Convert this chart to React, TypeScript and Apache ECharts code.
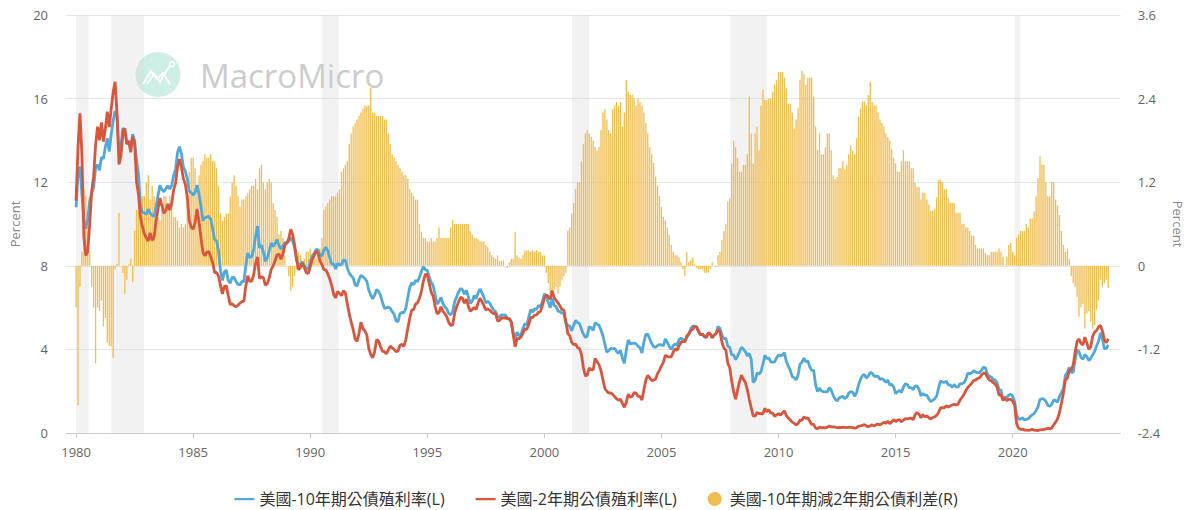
import React, { useEffect, useRef } from "react";
import * as echarts from "echarts";

// Monthly observations, starting January 1980
const START_YEAR = 1980;

const NAME_10Y = "美國-10年期公債殖利率(L)";
const NAME_2Y = "美國-2年期公債殖利率(L)";
const NAME_SPREAD = "美國-10年期減2年期公債利差(R)";

const X_TICKS = [1980, 1985, 1990, 1995, 2000, 2005, 2010, 2015, 2020];

// Recession periods (start, end) in fractional years
const RECESSIONS: [number, number][] = [
  [1980.0, 1980.54],
  [1981.5, 1982.9],
  [1990.51, 1991.22],
  [2001.18, 2001.92],
  [2007.94, 2009.5],
  [2020.08, 2020.32],
];

const T10: number[] = [
  10.8, 12.41, 12.75, 11.47, 10.18, 9.78, 10.25, 11.1, 11.51, 11.75, 12.68, 12.84,
  12.57, 13.19, 13.12, 13.68, 14.1, 13.47, 14.28, 14.94, 15.4, 15.15, 13.39, 13.72,
  14.59, 14.43, 13.86, 13.87, 13.62, 14.3, 13.95, 13.06, 12.34, 10.91, 10.55, 10.54,
  10.46, 10.72, 10.51, 10.4, 10.38, 10.85, 11.38, 11.85, 11.65, 11.54, 11.69, 11.83,
  11.67, 11.84, 12.32, 12.63, 13.41, 13.7, 13.36, 12.72, 12.52, 12.16, 11.57, 11.5,
  11.38, 11.51, 11.86, 11.43, 10.85, 10.16, 10.31, 10.33, 10.37, 10.24, 9.78, 9.26,
  9.19, 8.7, 7.78, 7.3, 7.71, 7.8, 7.3, 7.17, 7.45, 7.43, 7.25, 7.11,
  7.08, 7.25, 7.25, 8.02, 8.61, 8.4, 8.45, 8.76, 9.42, 9.9, 8.86, 8.99,
  8.67, 8.21, 8.37, 8.72, 9.09, 8.92, 9.06, 9.26, 8.98, 8.8, 8.96, 9.11,
  9.09, 9.17, 9.36, 9.18, 8.86, 8.28, 8.02, 8.11, 8.19, 8.01, 7.87, 7.84,
  8.21, 8.47, 8.59, 8.79, 8.76, 8.48, 8.47, 8.75, 8.89, 8.72, 8.39, 8.08,
  8.09, 7.85, 8.11, 8.04, 8.07, 8.28, 8.27, 7.9, 7.65, 7.53, 7.42, 7.09,
  7.03, 7.34, 7.54, 7.48, 7.39, 7.26, 6.84, 6.59, 6.42, 6.59, 6.87, 6.77,
  6.6, 6.26, 5.98, 5.97, 6.04, 5.96, 5.81, 5.68, 5.36, 5.33, 5.72, 5.77,
  5.75, 5.97, 6.48, 6.97, 7.18, 7.1, 7.3, 7.24, 7.46, 7.74, 7.96, 7.81,
  7.78, 7.47, 7.2, 7.06, 6.63, 6.17, 6.28, 6.49, 6.2, 6.04, 5.93, 5.71,
  5.65, 5.81, 6.27, 6.51, 6.74, 6.91, 6.87, 6.64, 6.83, 6.53, 6.2, 6.3,
  6.58, 6.42, 6.69, 6.89, 6.71, 6.49, 6.22, 6.3, 6.21, 6.03, 5.88, 5.81,
  5.54, 5.57, 5.65, 5.64, 5.65, 5.5, 5.46, 5.34, 4.81, 4.53, 4.83, 4.65,
  4.72, 5.0, 5.23, 5.18, 5.54, 5.9, 5.79, 5.94, 5.92, 6.11, 6.03, 6.28,
  6.66, 6.52, 6.26, 5.99, 6.44, 6.1, 6.05, 5.83, 5.8, 5.74, 5.72, 5.24,
  5.16, 5.1, 4.89, 5.14, 5.39, 5.28, 5.24, 4.97, 4.73, 4.57, 4.65, 5.09,
  5.04, 4.91, 5.28, 5.21, 5.16, 4.93, 4.65, 4.26, 3.87, 3.94, 4.05, 4.03,
  4.05, 3.9, 3.81, 3.96, 3.57, 3.33, 3.98, 4.45, 4.27, 4.29, 4.3, 4.27,
  4.15, 4.08, 3.83, 4.35, 4.72, 4.73, 4.5, 4.28, 4.13, 4.1, 4.19, 4.23,
  4.22, 4.17, 4.5, 4.34, 4.14, 4.0, 4.18, 4.26, 4.2, 4.46, 4.54, 4.47,
  4.42, 4.57, 4.72, 4.99, 5.11, 5.11, 5.09, 4.88, 4.72, 4.73, 4.6, 4.56,
  4.76, 4.72, 4.56, 4.69, 4.75, 5.1, 5.0, 4.67, 4.52, 4.53, 4.15, 4.1,
  3.74, 3.74, 3.51, 3.68, 3.88, 4.1, 4.01, 3.89, 3.69, 3.81, 3.53, 2.42,
  2.52, 2.87, 2.82, 2.93, 3.29, 3.72, 3.56, 3.59, 3.4, 3.39, 3.4, 3.59,
  3.73, 3.69, 3.73, 3.85, 3.42, 3.2, 3.01, 2.7, 2.65, 2.54, 2.76, 3.29,
  3.39, 3.58, 3.41, 3.46, 3.17, 3.0, 3.0, 2.3, 1.98, 2.15, 2.01, 1.98,
  1.97, 1.97, 2.17, 2.05, 1.8, 1.62, 1.53, 1.68, 1.72, 1.75, 1.65, 1.72,
  1.91, 1.98, 1.96, 1.76, 1.93, 2.3, 2.58, 2.74, 2.81, 2.62, 2.72, 2.9,
  2.86, 2.71, 2.72, 2.71, 2.56, 2.6, 2.54, 2.42, 2.53, 2.3, 2.33, 2.21,
  1.88, 1.98, 2.04, 1.94, 2.2, 2.36, 2.32, 2.17, 2.17, 2.07, 2.26, 2.24,
  2.09, 1.78, 1.89, 1.81, 1.81, 1.64, 1.5, 1.56, 1.63, 1.76, 2.14, 2.49,
  2.43, 2.42, 2.48, 2.3, 2.3, 2.19, 2.32, 2.21, 2.2, 2.36, 2.35, 2.4,
  2.58, 2.86, 2.84, 2.87, 2.98, 2.91, 2.89, 2.89, 3.0, 3.15, 3.12, 2.83,
  2.71, 2.68, 2.57, 2.53, 2.4, 2.07, 2.06, 1.63, 1.7, 1.71, 1.81, 1.86,
  1.76, 1.5, 0.87, 0.66, 0.67, 0.73, 0.62, 0.65, 0.68, 0.79, 0.87, 0.93,
  1.08, 1.26, 1.61, 1.64, 1.62, 1.52, 1.32, 1.28, 1.37, 1.58, 1.56, 1.47,
  1.76, 1.93, 2.13, 2.75, 2.9, 3.14, 2.9, 2.9, 3.52, 3.98, 3.89, 3.62,
  3.53, 3.75, 3.66, 3.46, 3.57, 3.75, 3.9, 4.17, 4.38, 4.8, 4.5, 4.02,
  4.06, 4.21,
];

const T2: number[] = [
  11.12, 13.67, 15.3, 13.3, 9.39, 8.49, 8.69, 10.01, 11.56, 12.29, 13.77, 14.66,
  14.01, 14.86, 13.94, 14.56, 15.38, 14.64, 15.51, 16.3, 16.8, 15.23, 12.85, 13.26,
  14.4, 14.57, 13.83, 13.99, 13.43, 14.18, 13.9, 12.0, 11.42, 10.33, 9.87, 9.54,
  9.33, 9.19, 9.58, 9.21, 9.39, 10.16, 10.72, 11.24, 10.88, 10.51, 10.65, 10.96,
  10.66, 10.97, 11.63, 11.95, 12.74, 13.1, 12.73, 12.17, 11.9, 11.26, 10.16, 9.85,
  9.75, 10.07, 10.72, 10.1, 9.35, 8.65, 8.47, 8.65, 8.68, 8.44, 8.16, 7.67,
  7.69, 7.51, 7.05, 6.66, 7.02, 7.04, 6.58, 6.14, 6.19, 6.08, 6.05, 6.12,
  6.21, 6.29, 6.31, 7.04, 7.52, 7.25, 7.27, 7.56, 8.13, 8.42, 7.4, 7.48,
  7.44, 7.07, 7.15, 7.42, 7.83, 8.0, 8.24, 8.53, 8.56, 8.31, 8.55, 8.99,
  9.09, 9.3, 9.75, 9.5, 9.0, 8.31, 7.81, 7.93, 8.12, 7.91, 7.67, 7.63,
  7.96, 8.3, 8.48, 8.71, 8.6, 8.24, 8.06, 7.82, 7.8, 7.62, 7.37, 7.05,
  6.64, 6.47, 6.77, 6.68, 6.57, 6.81, 6.7, 6.19, 5.7, 5.3, 4.95, 4.5,
  4.38, 4.77, 5.3, 5.0, 4.89, 4.69, 4.05, 3.76, 3.6, 3.89, 4.46, 4.4,
  4.14, 3.92, 3.89, 3.79, 3.97, 4.16, 4.07, 4.0, 3.89, 3.93, 4.2, 4.24,
  4.14, 4.47, 5.0, 5.49, 5.88, 5.91, 6.17, 6.23, 6.45, 6.79, 7.27, 7.6,
  7.56, 7.15, 6.74, 6.54, 6.06, 5.71, 5.75, 6.04, 5.82, 5.71, 5.56, 5.29,
  5.15, 5.17, 5.72, 6.04, 6.27, 6.49, 6.45, 6.21, 6.41, 6.08, 5.82, 5.91,
  6.01, 5.9, 6.22, 6.45, 6.28, 6.09, 5.89, 5.94, 5.88, 5.77, 5.71, 5.72,
  5.36, 5.38, 5.51, 5.5, 5.51, 5.46, 5.48, 5.31, 4.71, 4.12, 4.53, 4.52,
  4.59, 4.77, 4.99, 4.96, 5.19, 5.53, 5.52, 5.64, 5.65, 5.78, 5.82, 6.11,
  6.44, 6.61, 6.53, 6.4, 6.81, 6.48, 6.34, 6.23, 6.08, 5.91, 5.88, 5.35,
  4.76, 4.66, 4.34, 4.23, 4.26, 4.08, 4.04, 3.76, 3.12, 2.73, 2.78, 3.11,
  3.03, 3.02, 3.56, 3.42, 3.26, 2.99, 2.56, 2.13, 2.0, 1.91, 1.92, 1.84,
  1.74, 1.63, 1.57, 1.62, 1.42, 1.23, 1.47, 1.86, 1.71, 1.75, 1.93, 1.91,
  1.76, 1.74, 1.58, 2.07, 2.53, 2.76, 2.64, 2.51, 2.53, 2.58, 2.85, 3.01,
  3.22, 3.38, 3.73, 3.65, 3.64, 3.64, 3.87, 4.04, 3.95, 4.17, 4.33, 4.39,
  4.35, 4.64, 4.74, 4.89, 4.97, 5.09, 5.07, 4.85, 4.69, 4.72, 4.64, 4.58,
  4.79, 4.75, 4.57, 4.67, 4.77, 4.96, 4.82, 4.34, 4.06, 3.97, 3.34, 3.12,
  2.48, 1.97, 1.62, 2.05, 2.45, 2.77, 2.57, 2.42, 2.08, 1.61, 1.21, 0.82,
  0.81, 0.98, 0.93, 0.93, 0.92, 1.18, 1.02, 1.12, 0.96, 0.95, 0.8, 0.87,
  0.93, 0.86, 0.96, 1.06, 0.83, 0.72, 0.62, 0.52, 0.47, 0.38, 0.45, 0.62,
  0.61, 0.77, 0.7, 0.73, 0.56, 0.41, 0.41, 0.23, 0.21, 0.28, 0.25, 0.26,
  0.24, 0.28, 0.34, 0.29, 0.29, 0.29, 0.25, 0.27, 0.26, 0.28, 0.27, 0.26,
  0.27, 0.27, 0.26, 0.23, 0.25, 0.33, 0.34, 0.36, 0.4, 0.34, 0.3, 0.34,
  0.39, 0.33, 0.4, 0.42, 0.39, 0.45, 0.51, 0.47, 0.57, 0.45, 0.53, 0.64,
  0.55, 0.62, 0.64, 0.54, 0.61, 0.69, 0.67, 0.7, 0.71, 0.64, 0.88, 0.98,
  0.9, 0.73, 0.88, 0.77, 0.82, 0.73, 0.67, 0.74, 0.77, 0.84, 0.98, 1.2,
  1.21, 1.2, 1.31, 1.24, 1.29, 1.34, 1.37, 1.34, 1.38, 1.57, 1.7, 1.84,
  2.03, 2.18, 2.28, 2.38, 2.51, 2.53, 2.61, 2.64, 2.77, 2.86, 2.86, 2.68,
  2.54, 2.5, 2.41, 2.34, 2.21, 1.81, 1.84, 1.57, 1.65, 1.56, 1.61, 1.61,
  1.52, 1.33, 0.45, 0.23, 0.17, 0.19, 0.14, 0.14, 0.13, 0.14, 0.17, 0.14,
  0.13, 0.12, 0.15, 0.16, 0.16, 0.2, 0.22, 0.21, 0.23, 0.39, 0.52, 0.68,
  0.98, 1.44, 1.91, 2.54, 2.62, 3.0, 3.03, 3.25, 3.86, 4.38, 4.5, 4.29,
  4.21, 4.59, 4.31, 4.0, 4.13, 4.64, 4.83, 4.91, 5.08, 5.15, 4.88, 4.46,
  4.32, 4.5,
];

const SPREAD: number[] = [
  -0.6, -2.0, -0.3, 0.2, 1.1, 1.0, 0.6, 0.2, -0.3, -0.6, -1.4, -0.6,
  -0.65, -0.5, -0.87, -0.75, -1.1, -1.15, -1.15, -1.32, -0.05, 0.03, 0.76, 0.0,
  -0.1, -0.4, -0.2, 0.02, 0.1, -0.23, 0.5, 0.8, 1.2, 0.7, 1.0, 1.0,
  1.2, 1.3, 0.95, 1.15, 1.0, 0.75, 0.7, 0.65, 0.8, 1.0, 1.0, 0.9,
  1.0, 0.9, 0.7, 0.7, 0.65, 0.55, 0.6, 0.55, 0.6, 0.9, 1.35, 1.55,
  1.55, 1.4, 1.15, 1.3, 1.45, 1.5, 1.6, 1.55, 1.55, 1.6, 1.5, 1.5,
  1.4, 1.15, 0.75, 0.65, 0.7, 0.75, 0.75, 1.0, 1.2, 1.3, 1.15, 1.0,
  0.85, 0.95, 0.95, 1.0, 1.05, 1.1, 1.15, 1.15, 1.25, 1.1, 1.4, 1.45,
  1.2, 1.1, 1.2, 1.25, 1.2, 0.9, 0.8, 0.7, 0.45, 0.5, 0.4, 0.15,
  0.0, -0.15, -0.35, -0.3, -0.15, -0.05, 0.2, 0.15, 0.05, 0.1, 0.2, 0.2,
  0.25, 0.15, 0.1, 0.1, 0.15, 0.25, 0.4, 0.8, 0.85, 0.9, 0.95, 1.0,
  1.0, 1.0, 1.05, 1.1, 1.35, 1.4, 1.45, 1.5, 1.75, 1.9, 2.0, 2.05,
  2.1, 2.15, 2.2, 2.25, 2.3, 2.3, 2.3, 2.55, 2.2, 2.2, 2.15, 2.15,
  2.15, 2.15, 2.1, 2.1, 1.9, 1.75, 1.6, 1.55, 1.5, 1.45, 1.4, 1.35,
  1.3, 1.3, 1.25, 1.1, 1.05, 1.0, 0.95, 0.95, 0.6, 0.49, 0.4, 0.4,
  0.35, 0.35, 0.4, 0.35, 0.35, 0.4, 0.55, 0.4, 0.4, 0.4, 0.4, 0.4,
  0.55, 0.66, 0.6, 0.6, 0.6, 0.6, 0.6, 0.6, 0.6, 0.6, 0.5, 0.45,
  0.4, 0.4, 0.38, 0.35, 0.35, 0.35, 0.3, 0.27, 0.2, 0.15, 0.12, 0.1,
  0.15, 0.07, 0.07, 0.08, 0.0, -0.03, 0.05, 0.1, 0.1, 0.49, 0.15, 0.12,
  0.1, 0.15, 0.22, 0.22, 0.22, 0.2, 0.22, 0.2, 0.22, 0.2, 0.2, 0.15,
  0.15, -0.1, -0.25, -0.4, -0.35, -0.35, -0.3, -0.4, -0.3, -0.2, -0.15, -0.1,
  0.5, 0.55, 0.75, 0.9, 1.1, 1.2, 1.2, 1.5, 1.75, 1.9, 1.95, 1.9,
  1.85, 1.8, 1.7, 1.65, 1.7, 1.95, 2.2, 2.25, 2.1, 1.95, 1.9, 2.25,
  2.3, 2.35, 2.3, 2.35, 2.0, 2.2, 2.67, 2.5, 2.45, 2.45, 2.4, 2.3,
  2.4, 2.35, 2.3, 2.2, 2.05, 1.9, 1.7, 1.6, 1.48, 1.28, 1.15, 1.0,
  0.85, 0.7, 0.65, 0.55, 0.45, 0.3, 0.2, 0.15, 0.15, 0.12, 0.05, -0.05,
  -0.15, 0.2, 0.05, 0.08, 0.12, 0.02, -0.03, -0.05, -0.05, -0.05, -0.1, -0.1,
  -0.1, -0.05, 0.05, 0.0, -0.02, 0.15, 0.2, 0.37, 0.5, 0.6, 0.92, 0.97,
  1.47, 1.8, 1.7, 1.55, 1.35, 1.35, 1.45, 1.45, 1.6, 2.43, 1.9, 1.47,
  1.9, 2.0, 1.66, 2.3, 2.53, 2.38, 2.38, 2.4, 2.4, 2.5, 2.6, 2.67,
  2.78, 2.78, 2.78, 2.7, 2.55, 2.33, 2.33, 2.2, 1.97, 2.1, 2.26, 2.67,
  2.8, 2.75, 2.6, 2.7, 2.7, 2.7, 2.43, 2.0, 1.66, 1.9, 1.6, 1.6,
  1.7, 1.9, 1.9, 1.66, 1.3, 1.24, 1.28, 1.4, 1.4, 1.5, 1.38, 1.45,
  1.6, 1.73, 1.65, 1.6, 1.83, 2.14, 2.26, 2.36, 2.36, 2.3, 2.45, 2.64,
  2.35, 2.3, 2.3, 2.2, 2.1, 2.05, 2.0, 1.9, 1.85, 1.8, 1.67, 1.55,
  1.47, 1.35, 1.35, 1.5, 1.66, 1.5, 1.5, 1.5, 1.4, 1.4, 1.19, 1.13,
  1.13, 0.95, 1.05, 1.05, 0.95, 0.88, 0.79, 0.79, 0.82, 0.98, 1.23, 1.23,
  1.2, 1.1, 1.1, 0.97, 0.9, 0.9, 0.9, 0.76, 0.76, 0.76, 0.6, 0.6,
  0.55, 0.55, 0.5, 0.43, 0.43, 0.3, 0.25, 0.25, 0.25, 0.25, 0.18, 0.15,
  0.15, 0.2, 0.2, 0.2, 0.2, 0.25, 0.2, 0.13, 0.0, 0.13, 0.3, 0.33,
  0.2, 0.15, 0.4, 0.45, 0.5, 0.5, 0.5, 0.6, 0.55, 0.68, 0.68, 0.78,
  1.0, 1.26, 1.57, 1.45, 1.45, 1.2, 1.0, 1.0, 1.2, 1.2, 0.95, 0.87,
  0.73, 0.5, 0.3, 0.2, 0.25, 0.1, -0.15, -0.25, -0.3, -0.45, -0.73, -0.6,
  -0.55, -0.9, -0.68, -0.65, -0.8, -0.9, -0.85, -0.63, -0.5, -0.2, -0.3, -0.25,
  -0.2, -0.32,
];

const FONT = "'Open Sans', 'Noto Sans CJK TC', 'Noto Sans', sans-serif";
const BLUE = "#52a9d8";
const RED = "#d8563d";
const GOLD = "#f1bc50";
// legend icon: thin horizontal bar centred in a 20x14 box
const LINE_ICON = "path://M0,0h0.01v0.01H0zM0,5.9h20v2.4H0zM20,14h-0.01v-0.01H20z";

const toPairs = (vals: number[]) => vals.map((v, i) => [START_YEAR + i / 12, v]);

export default function App() {
  const ref = useRef<HTMLDivElement>(null);

  useEffect(() => {
    document.body.style.margin = "0";
    if (!ref.current) return;
    const chart = echarts.init(ref.current, null, { renderer: "svg" });

    chart.setOption({
      animation: false,
      textStyle: { fontFamily: FONT },
      grid: { left: 66, right: 71, top: 15, bottom: 77 },
      legend: {
        top: 486,
        left: "center",
        itemWidth: 20,
        itemHeight: 14,
        itemGap: 31,
        textStyle: { fontSize: 16, color: "#333", fontFamily: FONT },
        data: [
          { name: NAME_10Y, icon: LINE_ICON },
          { name: NAME_2Y, icon: LINE_ICON },
          { name: NAME_SPREAD, icon: "circle" },
        ],
      },
      graphic: [
        {
          type: "group",
          silent: true,
          z: 100,
          children: [
            { type: "circle", shape: { cx: 158, cy: 74.5, r: 22.5 }, style: { fill: "#cdefe5" } },
            {
              type: "polyline",
              shape: { points: [[143, 84], [151, 71], [157, 79], [163, 73], [170, 84]] },
              style: { stroke: "#fff", lineWidth: 2, fill: null },
            },
            {
              type: "polyline",
              shape: { points: [[147, 84], [154, 74], [160, 82], [166, 71], [170, 66]] },
              style: { stroke: "#fff", lineWidth: 2, fill: null },
            },
            { type: "circle", shape: { cx: 172, cy: 64, r: 2.5 }, style: { fill: "none", stroke: "#fff", lineWidth: 1.5 } },
            {
              type: "text",
              x: 200,
              y: 75,
              style: {
                text: "MacroMicro",
                fontSize: 33,
                fontFamily: FONT,
                fill: "#cccccc",
                verticalAlign: "middle",
              },
            },
          ],
        },
      ],
      xAxis: {
        type: "value",
        min: 1979.57,
        max: 2024.61,
        splitLine: { show: false },
        axisLine: { show: true, lineStyle: { color: "#ccc" } },
        axisTick: { show: true, length: 5, lineStyle: { color: "#ccc" }, customValues: X_TICKS },
        axisLabel: {
          customValues: X_TICKS,
          color: "#666",
          fontSize: 13,
          margin: 12,
          formatter: (v: number) => String(Math.round(v)),
        },
      },
      yAxis: [
        {
          type: "value",
          min: 0,
          max: 20,
          interval: 4,
          name: "Percent",
          nameLocation: "middle",
          nameGap: 45,
          nameTextStyle: { color: "#888", fontSize: 13 },
          axisLine: { show: false },
          axisTick: { show: false },
          axisLabel: { color: "#666", fontSize: 13, margin: 18 },
          splitLine: { lineStyle: { color: "#e6e6e6" } },
        },
        {
          type: "value",
          min: -2.4,
          max: 3.6,
          interval: 1.2,
          name: "Percent",
          nameLocation: "middle",
          nameGap: 50,
          nameRotate: -90,
          nameTextStyle: { color: "#888", fontSize: 13 },
          axisLine: { show: false },
          axisTick: { show: false },
          axisLabel: { color: "#666", fontSize: 13, margin: 17, formatter: (v: number) => String(Math.round(v * 10) / 10) },
          splitLine: { show: false },
        },
      ],
      series: [
        {
          name: "recessions",
          type: "line",
          data: [],
          z: 1,
          silent: true,
          markArea: {
            silent: true,
            itemStyle: { color: "rgba(215,215,215,0.32)" },
            data: RECESSIONS.map(([a, b]) => [{ xAxis: a }, { xAxis: b }]),
          },
        },
        {
          name: NAME_SPREAD,
          type: "bar",
          yAxisIndex: 1,
          barWidth: 1.3,
          z: 2,
          itemStyle: { color: GOLD },
          data: toPairs(SPREAD),
        },
        {
          name: NAME_10Y,
          type: "line",
          symbol: "none",
          z: 3,
          lineStyle: { color: BLUE, width: 2.8 },
          itemStyle: { color: BLUE },
          data: toPairs(T10),
        },
        {
          name: NAME_2Y,
          type: "line",
          symbol: "none",
          z: 4,
          lineStyle: { color: RED, width: 2.8 },
          itemStyle: { color: RED },
          data: toPairs(T2),
        },
      ],
    });

    return () => chart.dispose();
  }, []);

  return <div ref={ref} style={{ width: 1192, height: 510 }} />;
}
